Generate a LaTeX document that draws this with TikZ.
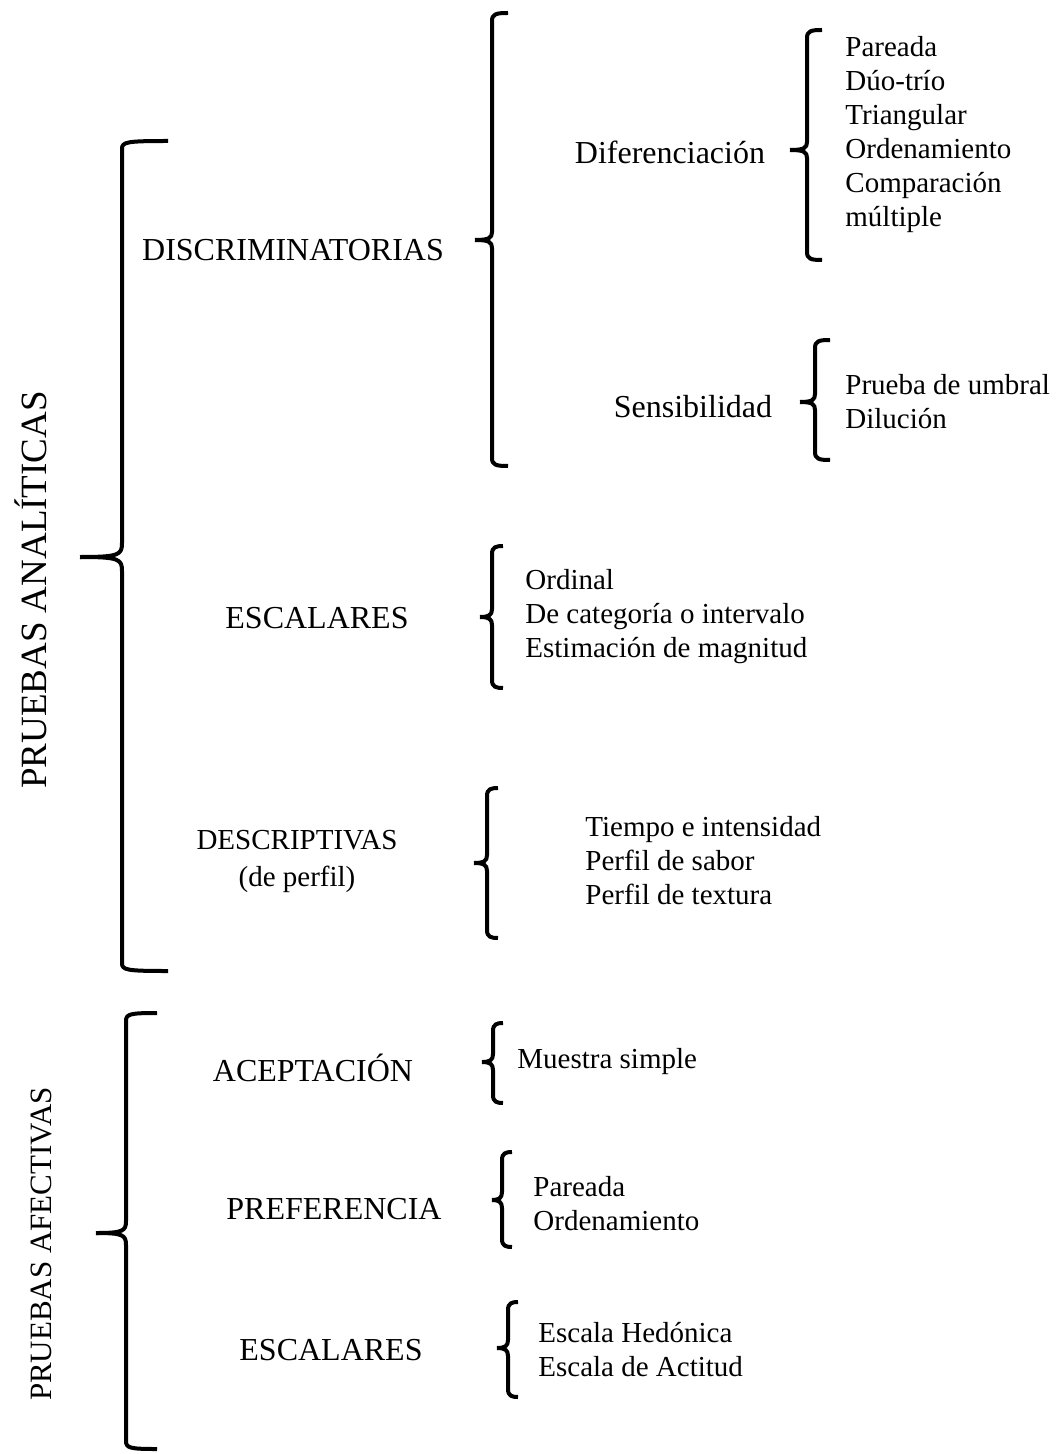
\documentclass[tikz,border=0pt]{standalone}
\usepackage{fontspec}
\setmainfont{Liberation Serif}
\usetikzlibrary{positioning}
% llave: x, arriba, punta y, abajo, punta x, gancho x, curva
\newcommand{\llave}[7]{%
  \draw[llave] (#6,#2) .. controls (#1+4,#2) and (#1,#2+1) .. (#1,#2+8)
    -- (#1,#3-#7) .. controls (#1,#3-2) and (#1-3,#3) .. (#5,#3);
  \draw[llave] (#5,#3) .. controls (#1-3,#3) and (#1,#3+2) .. (#1,#3+#7)
    -- (#1,#4-8) .. controls (#1,#4-1) and (#1+4,#4) .. (#6,#4);
}

\begin{document}
\begin{tikzpicture}[x=0.5pt,y=-0.5pt,
    llave/.style={line width=2pt,line join=round},
    grupo/.style={font=\fontsize{16}{19}\selectfont,inner sep=0pt},
    prueba/.style={font=\fontsize{14.5}{17}\selectfont,align=left,anchor=west,inner sep=0pt}]
    \useasboundingbox (0,0) rectangle (1058,1454);
    % pruebas analiticas
    \node[font=\fontsize{18.5}{21}\selectfont,rotate=90,inner sep=0pt] (analiticas) at (31,590) {PRUEBAS ANALÍTICAS};
    \llave{122}{141}{557}{971}{80}{168}{14}
    \node[grupo] (discrim) at (293,250) {DISCRIMINATORIAS};
    \llave{492}{13}{240}{466}{475}{508}{8}
    \node[grupo] (dif) at (670,152) {Diferenciación};
    \llave{807}{30}{150}{260}{790}{822}{8}
    \node[prueba] (difl) at (845,135) {Pareada\\Dúo-trío\\Triangular\\Ordenamiento\\Comparación\\múltiple};
    \node[grupo] (sens) at (693,407) {Sensibilidad};
    \llave{815}{340}{402}{460}{800}{830}{8}
    \node[prueba] (sensl) at (845,402) {Prueba de umbral\\Dilución};
    \node[grupo] (escA) at (317,618) {ESCALARES};
    \llave{492}{546}{617}{688}{480}{503}{8}
    \node[prueba] (escAl) at (525,617) {Ordinal\\De categoría o intervalo\\Estimación de magnitud};
    \node[grupo,font=\fontsize{14.5}{18.5}\selectfont,align=center] (descr) at (297,861) {DESCRIPTIVAS\\(de perfil)};
    \llave{487}{788}{863}{938}{474}{498}{8}
    \node[prueba] (descrl) at (585,861) {Tiempo e intensidad\\Perfil de sabor\\Perfil de textura};
    % pruebas afectivas
    \node[font=\fontsize{15.5}{18}\selectfont,rotate=90,inner sep=0pt] (afectivas) at (41,1244) {PRUEBAS AFECTIVAS};
    \llave{126}{1013}{1233}{1449}{96}{157}{12}
    \node[grupo] (acep) at (313,1068) {ACEPTACIÓN};
    \llave{493}{1023}{1062}{1103}{482}{503}{8}
    \node[prueba] (acepl) at (517,1062) {Muestra simple};
    \node[grupo] (pref) at (334,1209) {PREFERENCIA};
    \llave{502}{1152}{1200}{1247}{492}{512}{8}
    \node[prueba] (prefl) at (533,1204) {Pareada\\Ordenamiento};
    \node[grupo] (escB) at (331,1350) {ESCALARES};
    \llave{508}{1302}{1348}{1397}{497}{518}{8}
    \node[prueba] (escBl) at (538,1350) {Escala Hedónica\\Escala de Actitud};
\end{tikzpicture}
\end{document}
